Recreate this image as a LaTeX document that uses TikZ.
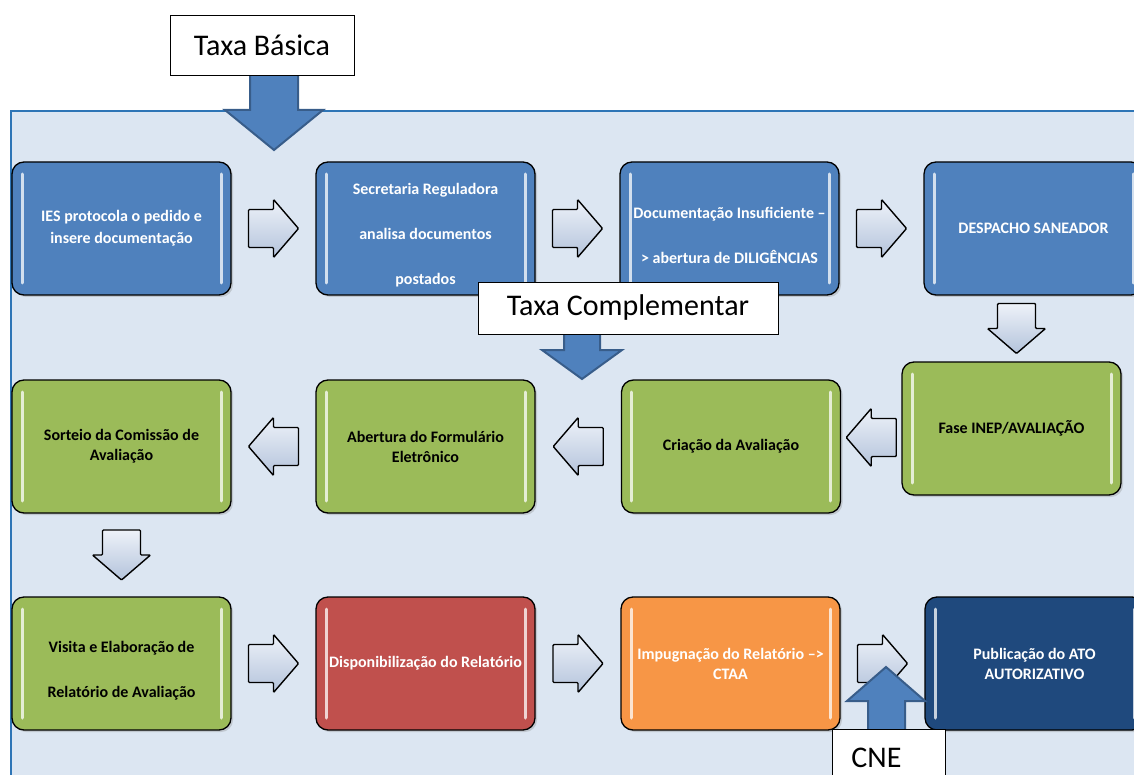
\documentclass[tikz,border=0pt]{standalone}
\usepackage{fontspec}
\setmainfont{Carlito}
\usetikzlibrary{calc,shadows}
\definecolor{pPanel}{HTML}{DCE6F2}
\definecolor{pFrame}{HTML}{2E75B6}
\definecolor{pBlue}{HTML}{4F81BD}
\definecolor{pBlueDark}{HTML}{385D8A}
\definecolor{pGreen}{HTML}{9BBB59}
\definecolor{pRed}{HTML}{C0504D}
\definecolor{pOrange}{HTML}{F79646}
\definecolor{pNavy}{HTML}{1F497D}
\definecolor{pChevTop}{HTML}{EEF2F9}
\definecolor{pChevBot}{HTML}{B3C3DB}
\newcommand{\desce}{\rule{0pt}{25pt}}
\tikzset{
    etapa/.style={rectangle, rounded corners=12pt, draw=black, line width=1.3pt,
        minimum width=219pt, minimum height=133pt, inner sep=2pt, align=center,
        text=white, font=\bfseries\fontsize{16}{20}\selectfont,
        drop shadow={opacity=0.3, shadow xshift=2pt, shadow yshift=-2pt},
        path picture={\draw[white, opacity=0.75, line width=3pt, line cap=round]
            ([xshift=10pt,yshift=-12pt]path picture bounding box.north west) -- ([xshift=10pt,yshift=12pt]path picture bounding box.south west)
            ([xshift=-10pt,yshift=-12pt]path picture bounding box.north east) -- ([xshift=-10pt,yshift=12pt]path picture bounding box.south east);}},
    taxa/.style={rectangle, draw=black, line width=0.8pt, fill=white, inner sep=0pt, font=\fontsize{30}{34}\selectfont},
    chevfill/.style={draw=black, line width=1.4pt, rounded corners=1pt, top color=pChevTop, bottom color=pChevBot},
    bigarrow/.style={fill=pBlue, draw=pBlueDark, line width=2pt},
    chevron/.pic={\draw[chevfill] (-25,-19) -- (0,-19) -- (0,-29) -- (25,0) -- (0,29) -- (0,19) -- (-25,19) -- cycle;}
}

\begin{document}
\begin{tikzpicture}[x=1pt,y=-1pt]
\useasboundingbox (0,0) rectangle (1134,775);
\clip (0,0) rectangle (1134,775);
% fundo
\fill[pPanel] (11,111) rectangle (1160,800);
\draw[pFrame, line width=2pt] (11,800) -- (11,111) -- (1160,111);

% taxa basica
\draw[bigarrow] (250,72) -- (250,110) -- (225,110) -- (274,150) -- (323,110) -- (298,110) -- (298,72) -- cycle;
\node[taxa, minimum width=184pt, minimum height=60pt] (tb) at (262,45) {Taxa Básica\hspace{8pt}};

% linha 1
\node[etapa, fill=pBlue] (b1) at (121.5,228.5) {IES protocola o pedido e\\[2pt]insere documentação};
\node[etapa, fill=pBlue] (b2) at (425.5,228.5) {\desce Secretaria Reguladora\\[25pt]analisa documentos\\[25pt]postados};
\node[etapa, fill=pBlue] (b3) at (729.5,228.5) {\desce Documentação Insuficiente --\\[25pt]> abertura de DILIGÊNCIAS};
\node[etapa, fill=pBlue] (b4) at (1033.5,228.5) {DESPACHO SANEADOR};
\pic at ($(b1.east)!.5!(b2.west)$) {chevron};
\pic at ($(b2.east)!.5!(b3.west)$) {chevron};
\pic at ($(b3.east)!.5!(b4.west)$) {chevron};

% taxa complementar
\draw[bigarrow] (564,330) -- (564,350) -- (542,350) -- (582,379) -- (622,350) -- (600,350) -- (600,330) -- cycle;
\node[taxa, minimum width=300pt, minimum height=52pt] (tc) at (628,308) {Taxa Complementar\hspace{10pt}};

% linha 2
\node[etapa, fill=pGreen, text=black] (b5) at (1011.5,428.5) {Fase INEP/AVALIAÇÃO};
\node[etapa, fill=pGreen, text=black] (b6) at (731,446.5) {Criação da Avaliação};
\node[etapa, fill=pGreen, text=black] (b7) at (425.5,446.5) {Abertura do Formulário\\Eletrônico};
\node[etapa, fill=pGreen, text=black] (b8) at (121.5,446.5) {Sorteio da Comissão de\\Avaliação};
\pic[rotate=-90] at ($(b4.south)!.5!(b5.north)+(-6,0)$) {chevron};
\pic[rotate=180] at ($(b5.west)!.5!(b6.east)$) {chevron};
\pic[rotate=180] at ($(b6.west)!.5!(b7.east)$) {chevron};
\pic[rotate=180] at ($(b7.west)!.5!(b8.east)$) {chevron};

% linha 3
\node[etapa, fill=pGreen, text=black] (b9) at (121.5,663.5) {\desce Visita e Elaboração de\\[25pt]Relatório de Avaliação};
\node[etapa, fill=pRed] (b10) at (425.5,663.5) {Disponibilização do Relatório};
\node[etapa, fill=pOrange] (b11) at (730.5,663.5) {Impugnação do Relatório --{}>\\CTAA};
\node[etapa, fill=pNavy] (b12) at (1034.5,663.5) {Publicação do ATO\\AUTORIZATIVO};
\pic[rotate=-90] at ($(b8.south)!.5!(b9.north)$) {chevron};
\pic at ($(b9.east)!.5!(b10.west)$) {chevron};
\pic at ($(b10.east)!.5!(b11.west)$) {chevron};
\pic at ($(b11.east)!.5!(b12.west)$) {chevron};

% CNE
\draw[bigarrow] (868,735) -- (868,701) -- (847,701) -- (886,667) -- (925,701) -- (905,701) -- (905,735) -- cycle;
\node[taxa, anchor=north west, minimum width=113pt, minimum height=56pt, inner xsep=19pt, text width=75pt, align=left] (cne) at (832,729) {CNE};
\end{tikzpicture}
\end{document}
